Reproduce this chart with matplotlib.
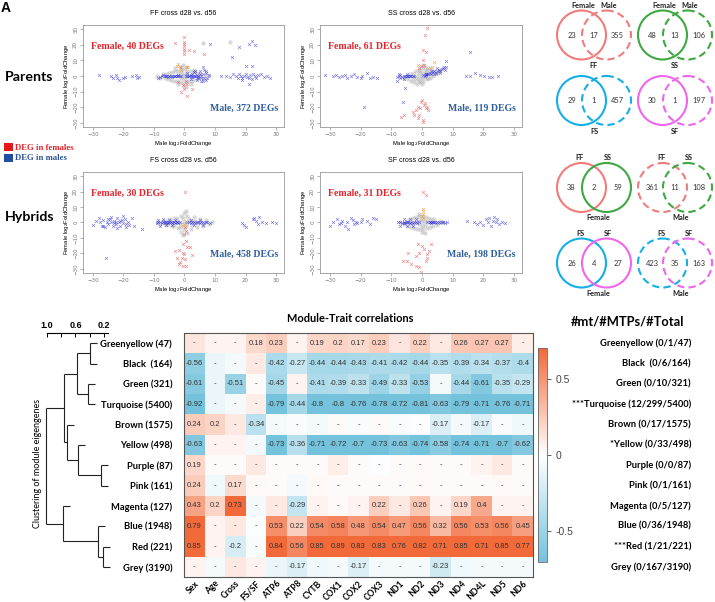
import numpy as np
import matplotlib
matplotlib.use('Agg')
import matplotlib.pyplot as plt
from matplotlib.colors import LinearSegmentedColormap
from matplotlib.patches import Circle, Rectangle
import matplotlib.transforms as mtransforms

# ---------------- DATA ----------------
# scatter panels (Male log2FC, Female log2FC)
ff_gray = [(-9,0),(-8,-1),(-7,1),(-6.5,-1.5),(-6,1.5),(-5.5,-2),(-5,2),(-4.5,-2.5),(-4,2.5),(-3.5,-3),(-3,3),(-2.5,-3.5),(-2,3.5),(-1.5,-4),(-1,4),(-0.5,-4.5),(0,4.5),(0.5,-4),(1,3.5),(1.5,-3.5),(2,3),(2.5,-3),(3,2.5),(3.5,-2),(4,2),(4.5,-1.5),(5,1.5),(6,-1),(7,0.5),(8,0),(-3,5),(-2,-5),(-1,6),(0,-6.5),(1,5.5),(2,-5),(3,4),(-2,0.5),(-1,-1),(0,1),(1,-0.5),(2,0),(-1,2),(0,-2),(1,1.5),(0,0),(-0.5,7),(0.5,-7),(6,21),(15,22)]
ff_blue = [(-28,0.5),(-24,0),(-23.5,-1),(-22.5,0.5),(-22,-1.5),(-21.5,-2.5),(-20,-1),(-19.5,-0.5),(-17,0),(-16,0.5),(-15.5,-1),(-15,-0.5),
           (-8.5,-1),(-8,-0.5),(-7.5,0),(-7,0.5),(-6.5,-0.3),(-6,0.3),(-5.5,-0.5),(-5,0.2),(-4.5,0),(-4,-0.4),(-3.5,0.3),(-3,0),(-2.5,-0.2),(-2,0.4),(-1.5,0),(-1,0.2),(-6,0),(-5,-0.3),(-4,0.3),(-3,-0.3),(-2,0),
           (0.5,0),(1,0.3),(1.5,-0.3),(2,0.5),(2.5,-0.5),(3,0.2),(3.5,-0.2),(4,0.8),(4.5,-0.8),(5,1),(5.5,-1),(6,1.5),(6.5,-1.5),(7,2),(7.5,-1),(8,0.5),(1,2),(2,-2),(3,2.5),(4,-2.5),(5,3),(6,-3),(7,3.5),(2.5,1.2),(4.5,-1.5),(6.5,4),(5.5,-3.5),(3.5,3),(7,-2.5),(6,5.5),(1.5,0),(2.5,0),(3.5,0),(4.5,0),(5.5,0),
           (12,0),(13.5,0),(15,-0.5),(16,1),(17,0),(17.5,-1),(18,1),(18.5,0),(19,-1.5),(19.5,0),(20,1.5),(20.5,-0.5),(21,-1),(21.5,0.5),(22,-2),(22.5,1),(23,0),(23.5,-1),(24,0.5),(25,1),(26,-0.5),(27,0),(28,-1),(19,-2.5),(21,-5),(22,6.5),(20,6.5),
           (8.5,20.5),(18,18.5),(21,20.5),(22,22.5),(23,19.5),(15.5,12)]
ff_red = [(0,25),(0,22),(0,20.5),(0,19),(0,17.5),(0,16),(0,14),(-3,21),(1.5,16.5),(3,16),(6.5,14),(0,-8),(-1,-10),(0.8,-12.5),(2.5,-8.5),(-0.5,-6),(1,-5),(-2,-4),(0.5,-3),(-1.5,6)]
ff_orange = [(-2.5,6.5),(-2,7.5),(0.5,6),(1,5.5),(-1,4)]

ss_gray = [(-6,-1),(-5,0),(-4.5,-2),(-4,1),(-3.5,-3),(-3,2),(-2.5,-4),(-2,3),(-1.5,-5),(-1,4),(-0.5,-4),(0,5),(0.5,-3),(1,6),(1.5,-2),(2,5),(2.5,-1),(3,4),(3.5,0),(4,3),(4.5,1),(5,2),(5.5,3),(6,4),(-2,0),(-1,-1),(0,0),(1,1),(2,2),(-1,1),(0,-1),(1,-0.5),(0,2),(-0.5,3),(0.5,7),(1.5,4),(-3,-1),(3,1),(2,-1),(-2,-2),(1,3),(-1,-3),(0,-5)]
ss_blue = [(-31.5,0.5),(-29,0),(-28,0.5),(-27,-0.5),(-26,0),(-25,0.5),(-24.5,-1),(-23,0),(-22,1),(-21,-0.5),(-20,-1),(-19.5,0),(-18,2),(-17,-1.5),(-16,-0.5),(-14.5,-1),(-19,-20),
           (-8,-0.5),(-7.5,0),(-7,0.5),(-6.5,-0.5),(-6,0),(-5.5,0.3),(-5,-0.3),(-4.5,0),(-4,-0.3),(-3.5,0.2),(-3,0),(-2.5,-0.2),(-7,-1.5),(-6,-2),(-5,1),(-4.8,-0.2),(-3.8,0.1),(-5.4,-7.9),(-6.2,-16.4),(-8,-3),(-7.5,1.5),
           (1.3,1),(1.5,1.2),(1.2,0.8),(1.4,1.5),
           (0.5,0.5),(1,0),(2,1.5),(2.5,2),(3,1),(3.5,2.5),(4,3),(4.5,2),(5,3.5),(5.5,4),(6,3),(6.5,4.5),(7,5),(7.5,4),(8,6),(3,3.5),(4,1.5),(5,5),(6,2),
           (14.2,0),(15.8,0),(17.4,2.1),(19,0.6),(20.1,0),(21.9,-0.9),(22.8,-0.9),(24.9,0),
           (15.8,15.5),(8,9.8),(7.2,6)]
ss_red = [(1.8,30.4),(1,26),(0.2,16.6),(1.3,15.5),(0.2,10.2),(-0.3,6.4),(0.8,7),(-0.9,4.9),(-3,-23),(-1.4,-19.6),(-0.3,-16.4),(-0.1,-15.3),(0.8,-18.5),(1.3,-20.6),(-0.9,-25),(-1.4,-27),(0.2,-28),(-6.8,-26),(-5.7,-25),(-2.5,-25),(1,-17.4),(1.8,-19.6),(-0.6,-20.6),(-1.9,-21.7),(0.5,-29.5),(2,-22)]
ss_orange = [(-1.4,7),(3.4,6),(4,9),(2.5,5)]

fs_gray = [(-9,0),(-8,-1),(-7,1),(-6,-1.5),(-5,2),(-4,-2.5),(-3,3),(-2,-3.5),(-1,4),(0,-4.5),(1,4.5),(2,-4),(3,3.5),(4,-3),(5,2.5),(6,-2),(7,1.5),(8,-1),(9,0.5),(-6.5,1),(-5.5,-1),(-4.5,1.5),(-3.5,-2),(-2.5,2.5),(-1.5,-3),(-0.5,3),(0.5,-2.5),(1.5,2),(2.5,-1.5),(3.5,1),(4.5,-0.5),(-2,0),(-1,-1),(0,0.5),(1,-0.5),(2,1),(0,6),(-1,-6),(1,-7),(0.5,7.5),(-0.5,-8)]
fs_blue = [(-30,-1.5),(-29,1),(-28,3),(-27.5,0),(-27,-2),(-26.5,1.5),(-26,-3),(-25.5,0.5),(-25,-1),(-24.5,2),(-24,0),(-23.5,-2.5),(-23,1),(-22.5,-1),(-22,3),(-21.5,0),(-21,-2),(-20.5,1.5),(-20,-0.5),(-19.5,2.5),(-19,-3),(-18.5,0.5),(-18,-1.5),(-17,3),(-16.5,-2),(-14,-4),(-24,3.5),(-22,-3.5),(-20,4),(-21,1),(-23,-0.5),(-19,-1),(-25,2),(-26.5,-2.5),(-22.5,0.5),(-25.6,-22.6),
           (-9,-0.5),(-8.5,0),(-8,0.5),(-7.5,-0.5),(-7,0.3),(-6.5,-0.3),(-6,0.5),(-5.5,-0.5),(-5,0),(-4.5,0.5),(-4,-0.5),(-3.5,0.3),(-3,-0.3),(-2.5,0.5),(-2,-0.5),(-1.5,0),(-8,-2),(-7,2),(-6,-1.5),(-5,1.5),(-4,-1.8),(-3,1.8),(-8.8,1.5),(-6.5,0),(-5.5,0),(-4.5,0),(-3.5,0),(-2.5,0),
           (0.8,0),(1.5,0.5),(2,-0.5),(2.5,0),(3,0.5),(3.5,-0.5),(4,0),(4.5,0.5),(5,-0.5),(5.5,0),(6,0.5),(6.5,-0.5),(7,0),(7.5,0.5),(8.3,-0.3),(3,-1.5),(5,1.5),(6,-1.5),(2,1.5),
           (19,-0.6),(19.6,-1.5),(22.3,2.2),(22.8,3.2),(24.5,3.7),(25.5,0),(26.6,-0.6),(28.8,0),(29.9,-0.6),(20.2,-3.2),(23.5,1),(24,-1)]
fs_red = [(0.2,19.4),(0.2,-3.2),(0.5,-5.4),(-0.1,-7.5),(0.4,-11.8),(-0.5,-14),(0.8,-15.7),(1.8,-16.1),(-1.9,-17.8),(-0.6,-19.4),(-0.1,-20.4),(-0.9,-22.6),(0.2,-23.7),(-1.4,-25.8),(-1.9,-26.9),(-0.5,-28),(0.5,-28),(-3,-18.3),(2.5,-21),(-2.5,-23)]
fs_orange = [(0,-1),(-0.3,-2.5),(0.5,1)]

sf_gray = [(-7,0),(-6,-1),(-5,1),(-4.5,-2),(-4,2),(-3.5,-3),(-3,3),(-2.5,-3.5),(-2,3.5),(-1.5,-4),(-1,4),(-0.5,-4.5),(0,4.5),(0.5,-4),(1,3.5),(1.5,-3.5),(2,3),(2.5,-3),(3,2.5),(3.5,-2),(4,2),(5,-1.5),(6,1),(7,0),(-2,0),(-1,-1),(0,0),(1,1),(2,0),(-1,1.5),(0,-2),(1,-1.5),(0,2),(-3,-0.5),(3,0.5),(0,-6),(-1,5.5),(1,-6.5)]
sf_blue = [(-30,-2),(-29,0),(-27.5,2),(-27,-1),(-26,1),(-25,-2.5),(-24.5,0),(-24,-4),(-23,3),(-22,-1),(-21.5,0.5),(-21,-0.5),(-20,0),(-19.5,2),(-18,1),(-17,-1),(-16,3),(-15,2),(-26.5,-0.5),(-22.5,1.5),
           (-7.8,0.5),(-7,0),(-6.5,-0.5),(-6,0.5),(-5.5,-0.5),(-5,0),(-4.5,0.5),(-4,-0.5),(-3.5,0.3),(-3,-0.3),(-2.5,0.5),(-2,0),(-1.5,-0.5),(-1,0.3),(-7,-2),(-6,2),(-5,-2.5),(-4,2.5),(-3,-2),(-2,2),(-6,-0.2),(-5,0.2),(-4,-0.1),
           (1.8,0),(2.5,0.5),(3,-0.5),(3.5,0),(4,0.5),(4.5,-0.5),(5,0),(5.5,0.5),(6,-0.5),(6.5,0),(7,0.5),(7.5,-0.5),(8.3,0),(2.5,0),(3.2,0.2),(4.2,0),
           (14.7,1),(17,0),(18,-1),(19,0.5),(20,-1.5),(21,2),(21.5,0),(22,3),(22.5,-2.5),(23,1),(23.5,3.5),(24,0),(24.5,2),(25,-1),(26,0.5),(27,-0.5)]
sf_red = [(0.2,20),(1.3,17.8),(0,-15),(0.8,-17.2),(2.4,-18.3),(1.6,-20.4),(-0.9,-19.4),(-1.9,-21.5),(-4.4,-19.4),(-6.2,-24.7),(-4.8,-24.7),(-3.5,-26.9),(-1.9,-28),(-0.9,-29),(-0.3,-32),(1.3,-24.7),(1.8,-22.6),(-1.4,-14),(2.9,-14)]
sf_orange = [(0.2,7.5),(0.3,5.8),(0.1,4.3),(0.2,3),(0.4,8.5)]

panel_titles = ["FF cross d28 vs. d56", "SS cross d28 vs. d56", "FS cross d28 vs. d56", "SF cross d28 vs. d56"]
female_degs = [40, 61, 30, 31]
male_degs = [372, 119, 458, 198]
scatter_ticks = [-30, -20, -10, 0, 10, 20, 30]

# Venn counts (left only, both, right only)
venn_parent_ff = (23, 17, 355)
venn_parent_ss = (48, 13, 106)
venn_parent_fs = (29, 1, 457)
venn_parent_sf = (30, 1, 197)
venn_hyb_female_ffss = (38, 2, 59)
venn_hyb_male_ffss = (361, 11, 108)
venn_hyb_female_fssf = (26, 4, 27)
venn_hyb_male_fssf = (423, 35, 163)

# Module-trait heatmap
modules = ["Greenyellow", "Black ", "Green", "Turquoise", "Brown", "Yellow", "Purple", "Pink", "Magenta", "Blue", "Red", "Grey"]
module_sizes = [47, 164, 321, 5400, 1575, 498, 87, 161, 127, 1948, 221, 3190]
n_mt = [0, 0, 0, 12, 0, 0, 0, 0, 0, 0, 1, 0]
n_mtp = [1, 6, 10, 299, 17, 33, 0, 1, 5, 36, 21, 167]
stars = ["", "", "", "***", "", "*", "", "", "", "", "***", ""]
traits = ["Sex", "Age", "Cross", "FS/SF", "ATP6", "ATP8", "CYTB", "COX1", "COX2", "COX3", "ND1", "ND2", "ND3", "ND4", "ND4L", "ND5", "ND6"]
corr = [
    [0.12,0.05,0.05,0.18,0.23,0.06,0.19,0.2,0.17,0.23,0.12,0.22,0.1,0.26,0.27,0.27,0.08],
    [-0.56,-0.1,-0.05,0.1,-0.42,-0.27,-0.44,-0.44,-0.43,-0.41,-0.42,-0.44,-0.35,-0.39,-0.34,-0.37,-0.4],
    [-0.61,-0.1,-0.51,0.02,-0.45,0.05,-0.41,-0.39,-0.33,-0.49,-0.33,-0.53,-0.05,-0.44,-0.61,-0.35,-0.29],
    [-0.92,-0.1,-0.05,0.08,-0.79,-0.44,-0.8,-0.8,-0.76,-0.78,-0.72,-0.81,-0.63,-0.79,-0.71,-0.76,-0.71],
    [0.24,0.2,0.1,-0.34,-0.05,-0.03,-0.05,0.02,-0.03,0.02,-0.03,-0.02,-0.17,-0.05,-0.17,-0.03,-0.08],
    [-0.63,0.05,0.05,-0.05,-0.73,-0.36,-0.71,-0.72,-0.7,-0.73,-0.63,-0.74,-0.58,-0.74,-0.71,-0.7,-0.62],
    [0.19,0.02,0.02,0.1,0.02,0.02,0.02,0.08,0.02,-0.02,0.02,0.03,0.02,0.02,0.05,0.1,0.02],
    [0.24,-0.08,0.17,0.03,0.02,-0.06,0.03,0.02,0.02,0.02,0.02,0.03,0.02,0.02,0.02,0.03,0.02],
    [0.43,0.2,0.73,-0.05,0.1,-0.29,0.05,0.03,0.05,0.22,0.1,0.26,0.05,0.19,0.4,0.05,0.05],
    [0.79,0.05,0.1,-0.02,0.53,0.22,0.54,0.58,0.48,0.54,0.47,0.56,0.32,0.56,0.53,0.56,0.45],
    [0.85,0.05,-0.2,-0.03,0.84,0.56,0.85,0.89,0.83,0.83,0.76,0.82,0.71,0.85,0.71,0.85,0.77],
    [0.05,-0.05,0.1,0.05,-0.1,-0.17,-0.08,-0.05,-0.17,-0.05,-0.05,-0.05,-0.23,-0.08,-0.05,-0.05,-0.05],
]
sig = [
    [0,0,0,1,1,0,1,1,1,1,0,1,0,1,1,1,0],
    [1,0,0,0,1,1,1,1,1,1,1,1,1,1,1,1,1],
    [1,0,1,0,1,0,1,1,1,1,1,1,0,1,1,1,1],
    [1,0,0,0,1,1,1,1,1,1,1,1,1,1,1,1,1],
    [1,1,0,1,0,0,0,0,0,0,0,0,1,0,1,0,0],
    [1,0,0,0,1,1,1,1,1,1,1,1,1,1,1,1,1],
    [1,0,0,0,0,0,0,0,0,0,0,0,0,0,0,0,0],
    [1,0,1,0,0,0,0,0,0,0,0,0,0,0,0,0,0],
    [1,1,1,0,0,1,0,0,0,1,0,1,0,1,1,0,0],
    [1,0,0,0,1,1,1,1,1,1,1,1,1,1,1,1,1],
    [1,0,1,0,1,1,1,1,1,1,1,1,1,1,1,1,1],
    [0,0,0,0,0,1,0,0,1,0,0,0,1,0,0,0,0],
]
# dendrogram merges: (child a, child b, height); leaves 0..11 in module order
merges = [(0,1,0.40),(2,3,0.42),(12,13,0.58),(6,7,0.24),(5,15,0.56),(4,16,0.72),
          (14,17,0.76),(10,11,0.21),(9,19,0.28),(8,20,0.78),(18,21,1.01)]
hang = 0.10

# ---------------- FIGURE ----------------
W, H = 715, 602
fig = plt.figure(figsize=(W/100, H/100), dpi=100)
SANS = ['Lato', 'DejaVu Sans']
ARIAL = ['Liberation Sans', 'DejaVu Sans']
SERIF = ['Liberation Serif', 'DejaVu Serif']
renderer = fig.canvas.get_renderer()

def fit_width(artists, target_px, ref=None):
    """scale font of a group of texts so that the reference one is target_px wide"""
    ref = artists[0] if ref is None else ref
    w = ref.get_window_extent(renderer=renderer).width
    f = target_px / w
    for a in artists:
        a.set_fontsize(a.get_fontsize() * f)

def add_ax(l, t, r, b):
    return fig.add_axes([l/W, 1-b/H, (r-l)/W, (b-t)/H])

ov = fig.add_axes([0, 0, 1, 1])
ov.set_xlim(0, W); ov.set_ylim(H, 0); ov.axis('off')

# ---- scatter panels ----
panels = [((83, 25, 284, 127), ff_gray, ff_blue, ff_red, ff_orange),
          ((320, 25, 522, 127), ss_gray, ss_blue, ss_red, ss_orange),
          ((83, 172, 284, 273), fs_gray, fs_blue, fs_red, fs_orange),
          ((320, 172, 522, 273), sf_gray, sf_blue, sf_red, sf_orange)]
for k, (box, g, b, r, o) in enumerate(panels):
    ax = add_ax(*box)
    gx, gy = zip(*g)
    ax.scatter(gx, gy, s=12, marker='o', c='#BDBDBD', alpha=0.35, lw=0)
    ax.scatter(gx, gy, s=4, marker='x', c='#A8A8A8', alpha=0.5, lw=0.4)
    bx, by = zip(*b)
    ax.scatter(bx, by, s=4, marker='x', c='#2B2BE6', alpha=0.6, lw=0.5)
    rx, ry = zip(*r)
    ax.scatter(rx, ry, s=4, marker='x', c='#EE5A5A', alpha=0.7, lw=0.5)
    ox, oy = zip(*o)
    ax.scatter(ox, oy, s=4, marker='x', c='#F0A040', alpha=0.8, lw=0.5)
    ax.set_xlim(-33.2, 32.6); ax.set_ylim(-32.6, 32.6)
    ax.set_xticks(scatter_ticks); ax.set_yticks(scatter_ticks)
    ax.tick_params(labelsize=4, colors='#777777', length=2, width=0.4, pad=1.5)
    for lab in ax.get_yticklabels():
        lab.set_rotation(90); lab.set_va('center')
    for sp in ax.spines.values():
        sp.set_color('#999999'); sp.set_linewidth(0.6)
    ax.set_xlabel('Male log$_2$FoldChange', fontsize=4.2, labelpad=1.5, family=ARIAL)
    ax.set_ylabel('Female log$_2$FoldChange', fontsize=4.2, labelpad=1.5, family=ARIAL)
    ax.set_title(panel_titles[k], fontsize=5, pad=7, family=ARIAL)
    ax.text(0.04, 0.79, f"Female, {female_degs[k]} DEGs", transform=ax.transAxes,
            ha='left', va='center', color='#E3242B', fontsize=7, fontweight='bold', family=SERIF)
    ax.text(0.97, 0.185, f"Male, {male_degs[k]} DEGs", transform=ax.transAxes,
            ha='right', va='center', color='#2E5E9E', fontsize=7, fontweight='bold', family=SERIF)

# ---- overlay labels ----
ov.text(1, 1, 'A', fontsize=10, fontweight='bold', ha='left', va='top', family=ARIAL)
t_par = ov.text(5, 77, 'Parents', fontsize=11.5, fontweight='bold', ha='left', va='center', family=SANS)
t_hyb = ov.text(5, 217, 'Hybrids', fontsize=11.5, fontweight='bold', ha='left', va='center', family=SANS)
fit_width([t_par, t_hyb], 48)
ov.add_patch(Rectangle((4, 143), 9, 8, color='#E81818', lw=0))
ov.add_patch(Rectangle((4, 154), 9, 8, color='#1F4F9F', lw=0))
ov.text(15, 147.5, 'DEG in females', color='#E3242B', fontsize=6.3, fontweight='bold', va='center', family=SERIF)
ov.text(15, 158.5, 'DEG in males', color='#2F5597', fontsize=6.3, fontweight='bold', va='center', family=SERIF)

# ---- Venn diagrams ----
C_FF, C_SS, C_FS, C_SF = '#F07C7C', '#3EA843', '#16AEE6', '#EE66EE'
DASH = (0, (3.5, 2))
R = 24.5
venn_texts = []
def venn(cx, cy, c1, c2, ls1, ls2, counts):
    ov.add_patch(Circle((cx - 12.5, cy), R, fill=False, ec=c1, lw=1.5, ls=ls1))
    ov.add_patch(Circle((cx + 12.5, cy), R, fill=False, ec=c2, lw=1.5, ls=ls2))
    for xx, v in zip((cx - 22.5, cx, cx + 23.5), counts):
        venn_texts.append(ov.text(xx, cy, str(v), ha='center', va='center', fontsize=7,
                                  color='#333333', family=SANS))
lab_texts = []
def lab(x, y, s):
    lab_texts.append(ov.text(x, y, s, ha='center', va='center', fontsize=6.5, fontweight='bold',
                             color='#222222', family=SANS))

venn(594, 35, C_FF, C_FF, '-', DASH, venn_parent_ff)
venn(675, 35, C_SS, C_SS, '-', DASH, venn_parent_ss)
venn(594, 100.5, C_FS, C_FS, '-', DASH, venn_parent_fs)
venn(675, 100.5, C_SF, C_SF, '-', DASH, venn_parent_sf)
for x0 in (594, 675):
    lab(x0 - 11, 5, 'Female'); lab(x0 + 15, 5, 'Male')
lab(594, 66, 'FF'); lab(675, 66, 'SS'); lab(594, 132, 'FS'); lab(675, 132, 'SF')

venn(594, 187.5, C_FF, C_SS, '-', '-', venn_hyb_female_ffss)
venn(675, 187.5, C_FF, C_SS, DASH, DASH, venn_hyb_male_ffss)
venn(594, 263, C_FS, C_SF, '-', '-', venn_hyb_female_fssf)
venn(675, 263, C_FS, C_SF, DASH, DASH, venn_hyb_male_fssf)
for x0 in (594, 675):
    lab(x0 - 14, 157, 'FF'); lab(x0 + 14, 157, 'SS')
    lab(x0 - 14, 234, 'FS'); lab(x0 + 14, 234, 'SF')
lab(598, 217, 'Female'); lab(681, 217, 'Male')
lab(598, 294, 'Female'); lab(681, 294, 'Male')
fit_width(lab_texts, 23.5)                    # "Female" ~23 px wide
fit_width(venn_texts, 13, ref=venn_texts[2])  # "355" ~13 px wide

# ---- heatmap ----
cmap = LinearSegmentedColormap.from_list('mt', ['#74C2DC', '#FFFFFF', '#F26A3A'])
hm = add_ax(184, 333, 533, 577)
corr_arr = np.array(corr)
im = hm.imshow(corr_arr, cmap=cmap, vmin=-0.7, vmax=0.7, aspect='auto', interpolation='nearest')
for i in range(corr_arr.shape[0]):
    for j in range(corr_arr.shape[1]):
        txt = f"{round(corr_arr[i, j], 2):g}" if sig[i][j] else '-'
        hm.text(j, i, txt, ha='center', va='center', fontsize=5.5, color='#333333', family=ARIAL)
hm.set_xticks(range(len(traits)))
xl = hm.set_xticklabels(traits, rotation=45, ha='right', va='top', rotation_mode='anchor',
                        fontsize=6.8, fontweight='bold', family=SANS)
hm.set_yticks(range(len(modules)))
yl = hm.set_yticklabels([f"{m} ({s})" for m, s in zip(modules, module_sizes)],
                        fontsize=7.5, fontweight='bold', family=SANS)
hm.tick_params(axis='y', length=0, pad=8.5)
hm.tick_params(axis='x', length=0, pad=1.5)
for sp in hm.spines.values():
    sp.set_color('#555555'); sp.set_linewidth(0.8)
fit_width(yl, 72)
f_row = yl[0].get_fontsize()
for t in xl:
    t.set_fontsize(f_row * 0.92)

t_title = fig.text(350/W, 1 - 318/H, 'Module-Trait correlations', ha='center', va='center',
                   fontsize=10, fontweight='bold', family=SANS)
fit_width([t_title], 126)

# colorbar
cax = add_ax(538, 348, 547, 562)
cb = fig.colorbar(im, cax=cax, ticks=[-0.5, 0, 0.5])
cb.ax.set_yticklabels(['-0.5', '0', '0.5'])
cb.ax.tick_params(labelsize=7.5, colors='#444444', length=3, width=0.6)
for t in cb.ax.get_yticklabels():
    t.set_family(ARIAL)
cb.outline.set_edgecolor('#666666'); cb.outline.set_linewidth(0.6)

# right labels
trans = mtransforms.blended_transform_factory(fig.transFigure, hm.transData)
right_texts = []
for i in range(len(modules)):
    right_texts.append(hm.text(691/W, i, f"{stars[i]}{modules[i]} ({n_mt[i]}/{n_mtp[i]}/{module_sizes[i]})",
                               transform=trans, ha='right', va='center', fontsize=7.5, fontweight='bold',
                               family=SANS, clip_on=False))
fit_width(right_texts, 119, ref=right_texts[3])
t_rt = fig.text(628/W, 1 - 322/H, '#mt/#MTPs/#Total', ha='center', va='center', fontsize=12,
                fontweight='bold', family=SANS)
fit_width([t_rt], 113)

# ---- dendrogram ----
dg = add_ax(35, 333, 118.25, 577)
dg.set_xlim(1.168, 0); dg.set_ylim(len(modules) - 0.5, -0.5)
pos = {i: float(i) for i in range(len(modules))}
hgt = {}
for k, (a, b, h) in enumerate(merges):
    node = len(modules) + k
    for c in (a, b):
        x0 = hgt[c] if c in hgt else h - hang
        dg.plot([x0, h], [pos[c], pos[c]], color='#222222', lw=0.8, solid_capstyle='butt')
    dg.plot([h, h], [pos[a], pos[b]], color='#222222', lw=0.8, solid_capstyle='butt')
    pos[node] = (pos[a] + pos[b]) / 2
    hgt[node] = h
for s in ('left', 'right', 'bottom'):
    dg.spines[s].set_visible(False)
dg.spines['top'].set_bounds(0.14, 1.0)
dg.spines['top'].set_linewidth(0.8)
dg.set_yticks([])
dg.xaxis.tick_top()
dg.set_xticks([1.0, 0.8, 0.6, 0.4, 0.2])
dg.set_xticklabels(['1.0', '', '0.6', '', '0.2'], fontsize=6.5, fontweight='bold', family=ARIAL)
dg.tick_params(axis='x', direction='in', length=3, width=0.7, pad=2)
dg.patch.set_visible(False)
t_cl = fig.text(37/W, 1 - 463/H, 'Clustering of module eigengenes', rotation=90, ha='center',
                va='center', fontsize=7.5, family=SANS)
w_cl = t_cl.get_window_extent(renderer=renderer).height
t_cl.set_fontsize(t_cl.get_fontsize() * 129 / w_cl)

fig.savefig('out.png', dpi=100)
